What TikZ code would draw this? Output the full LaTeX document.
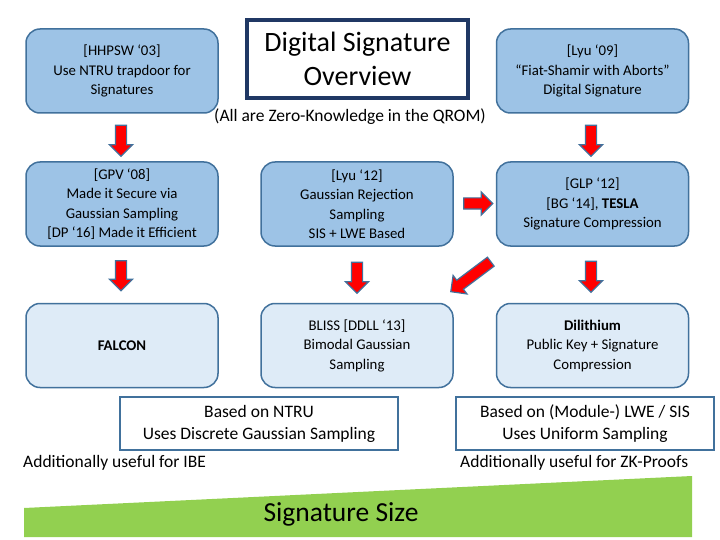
\documentclass[tikz,border=0pt]{standalone}
\usepackage{fontspec}
\setmainfont{Carlito}
\usetikzlibrary{shapes.arrows}
\definecolor{boxblue}{HTML}{9DC3E6}
\definecolor{paleblue}{HTML}{DEEBF7}
\definecolor{edgeblue}{HTML}{41719C}
\definecolor{navy}{HTML}{203864}
\definecolor{grass}{HTML}{92D050}
\begin{document}
\begin{tikzpicture}[x=1pt,y=-1pt,
  card/.style={draw=edgeblue, line width=1.5pt, rounded corners=14pt,
    minimum width=192pt, minimum height=84pt, align=center,
    font=\fontsize{14.8}{19.5}\selectfont, inner sep=2pt},
  darkcard/.style={card, fill=boxblue},
  palecard/.style={card, fill=paleblue},
  blockarrow/.style={single arrow, draw=edgeblue, fill=red, line width=1.2pt,
    inner xsep=0pt, inner ysep=5pt, single arrow head extend=6pt, anchor=center},
  plainbox/.style={draw=edgeblue, line width=2pt, align=center,
    minimum height=53pt, font=\fontsize{17.5}{22}\selectfont},
  note/.style={font=\fontsize{17.5}{22}\selectfont, inner sep=0pt}
]
\useasboundingbox (0,0) rectangle (720,540);
\fill[white] (0,0) rectangle (720,540);

% row 1
\node[darkcard] (hhpsw) at (122,71) {[HHPSW ‘03]\\Use NTRU trapdoor for\\Signatures};
\node[draw=navy, line width=3.5pt, minimum width=221pt, minimum height=78pt,
  align=center, font=\fontsize{28}{34}\selectfont] (title) at (357.5,59)
  {Digital Signature\\Overview};
\node[darkcard] (lyu09) at (592.5,71) {[Lyu ‘09]\\“Fiat-Shamir with Aborts”\\Digital Signature};
\node[note] (qrom) at (350,117) {(All are Zero-Knowledge in the QROM)};

% row 2
\node[darkcard] (gpv) at (122,204) {[GPV ‘08]\\Made it Secure via\\Gaussian Sampling\\{}[DP ‘16] Made it Efficient};
\node[darkcard] (lyu12) at (357,204) {[Lyu ‘12]\\Gaussian Rejection\\Sampling\\SIS + LWE Based};
\node[darkcard] (glp) at (592.5,204) {[GLP ‘12]\\{}[BG ‘14], \textbf{TESLA}\\Signature Compression};

% row 3
\node[palecard] (falcon) at (122,345.5) {\textbf{FALCON}};
\node[palecard] (bliss) at (357,345.5) {BLISS [DDLL ‘13]\\Bimodal Gaussian\\Sampling};
\node[palecard] (dil) at (592.5,345.5) {\textbf{Dilithium}\\Public Key + Signature\\Compression};

% block arrows
\node[blockarrow, minimum height=31pt, rotate=-90] (a1) at (121,138) {};
\node[blockarrow, minimum height=31pt, rotate=-90] (a2) at (591,138) {};
\node[blockarrow, minimum height=30pt, rotate=-90] (a3) at (121,273) {};
\node[blockarrow, minimum height=31pt, rotate=-90] (a4) at (357,275) {};
\node[blockarrow, minimum height=31pt, rotate=-90] (a5) at (591,274) {};
\node[blockarrow, minimum height=29pt] (a6) at (475.5,203.5) {};
\node[blockarrow, minimum height=50pt, rotate=216.87] (a7) at (473,275) {};

% bottom boxes
\node[plainbox, minimum width=278pt] (ntru) at (259,423.5)
  {Based on NTRU\\Uses Discrete Gaussian Sampling};
\node[plainbox, minimum width=258pt] (mlwe) at (585,423.5)
  {Based on (Module-) LWE / SIS\\Uses Uniform Sampling};
\node[note, anchor=west] (ibe) at (23,463) {Additionally useful for IBE};
\node[note, anchor=west] (zk) at (460,463) {Additionally useful for ZK-Proofs};

% signature size wedge
\fill[grass] (24,508) -- (692,476) -- (692,537) -- (24,537) -- cycle;
\node[font=\fontsize{27.5}{32}\selectfont, inner sep=0pt] (size) at (341,514) {Signature Size};
\end{tikzpicture}
\end{document}
